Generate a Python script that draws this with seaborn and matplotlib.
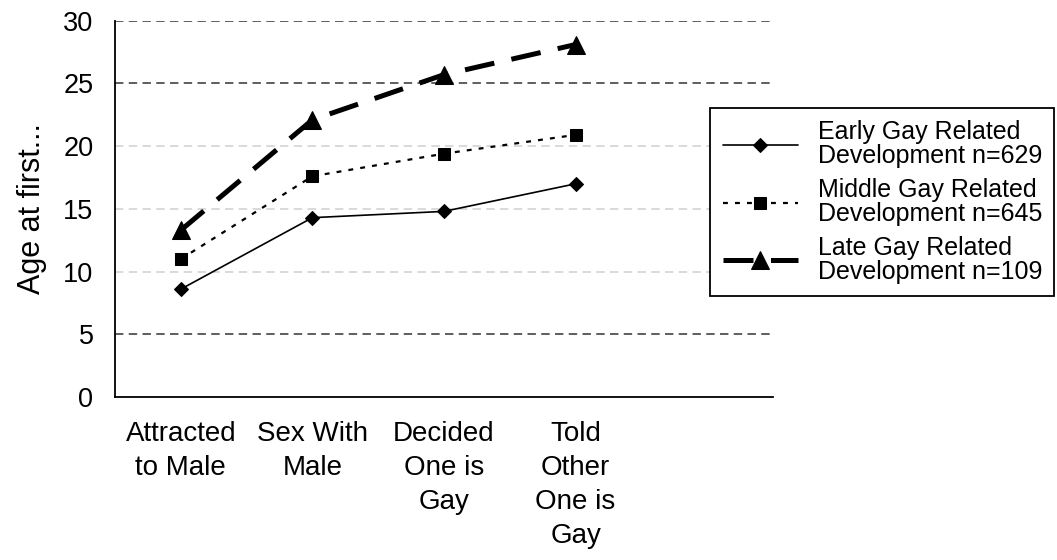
import matplotlib
matplotlib.use("Agg")
import matplotlib.pyplot as plt
import seaborn as sns
import pandas as pd

# Milestones (x axis) and mean age at each milestone per group
milestones = ["Attracted\nto Male", "Sex With\nMale", "Decided\nOne is\nGay", "Told\nOther\nOne is\nGay"]
early_ages = [8.6, 14.3, 14.8, 17.0]
middle_ages = [11.0, 17.6, 19.4, 20.9]
late_ages = [13.3, 22.1, 25.7, 28.1]
group_labels = [
    "Early Gay Related\nDevelopment n=629",
    "Middle Gay Related\nDevelopment n=645",
    "Late Gay Related\nDevelopment n=109",
]
y_ticks = [0, 5, 10, 15, 20, 25, 30]
grid_levels = [5, 10, 15, 20, 25, 30]
grid_colors = ["#333333", "#cfcfcf", "#cfcfcf", "#cfcfcf", "#333333", "#333333"]

sns.set_theme(style="white")
plt.rcParams["font.family"] = ["Liberation Sans", "DejaVu Sans"]
plt.rcParams["text.color"] = "black"
plt.rcParams["axes.labelcolor"] = "black"
plt.rcParams["xtick.color"] = "black"
plt.rcParams["ytick.color"] = "black"

fig = plt.figure(figsize=(10.57, 5.6), dpi=100)
ax = fig.add_axes([0.1088, 0.291, 0.6225, 0.672])

for lvl, col in zip(grid_levels, grid_colors):
    ax.axhline(lvl, color=col, lw=1.1, ls=(0, (5.5, 3.5)), zorder=0)

positions = list(range(len(milestones)))
styles = [
    dict(marker="D", markersize=7.5, lw=1.2, dashes=None),
    dict(marker="s", markersize=9, lw=1.6, dashes=(2.2, 3.2)),
    dict(marker="^", markersize=13, lw=3.6, dashes=(6.0, 3.5)),
]
series = [early_ages, middle_ages, late_ages]
for ages, label, st in zip(series, group_labels, styles):
    df = pd.DataFrame({"pos": positions, "age": ages})
    sns.lineplot(data=df, x="pos", y="age", ax=ax, label=label, color="black",
                 marker=st["marker"], markersize=st["markersize"], lw=st["lw"],
                 markeredgecolor="black", markerfacecolor="black")
    if st["dashes"] is not None:
        ax.lines[-1].set_dashes(st["dashes"])

ax.set_xlim(-0.5, 4.5)
ax.set_ylim(0, 30)
ax.set_yticks(y_ticks)
ax.set_yticklabels([str(t) for t in y_ticks], fontsize=19.5, color="black")
ax.set_xticks([p - 0.5 for p in range(6)])
ax.set_xticklabels([])
ax.set_xticks(positions, minor=True)
ax.set_xticklabels(milestones, minor=True, fontsize=20, linespacing=1.4, va="top",
                   color="black")
ax.tick_params(axis="x", which="major", direction="out", length=7, width=1.3, color="black")
ax.tick_params(axis="x", which="minor", length=0, pad=17)
ax.tick_params(axis="y", direction="out", length=7.5, width=1.3, color="black", pad=8)
ax.set_xlabel("")
ax.set_ylabel("Age at first...", fontsize=22, labelpad=12, color="black")

for side in ["top", "right"]:
    ax.spines[side].set_visible(False)
for side in ["left", "bottom"]:
    ax.spines[side].set_color("black")
    ax.spines[side].set_linewidth(1.3)

leg = ax.legend(loc="upper left", bbox_to_anchor=(710 / 1057, 1 - 108 / 560),
                bbox_transform=fig.transFigure, frameon=True, fancybox=False,
                framealpha=1.0, edgecolor="black", fontsize=18, handlelength=3.0,
                labelspacing=0.38, borderpad=0.5, handletextpad=0.8,
                borderaxespad=0)
leg.get_frame().set_linewidth(1.3)
for t in leg.get_texts():
    t.set_linespacing(1.0)
    t.set_color("black")

fig.savefig("out.png", dpi=100, facecolor="white")
